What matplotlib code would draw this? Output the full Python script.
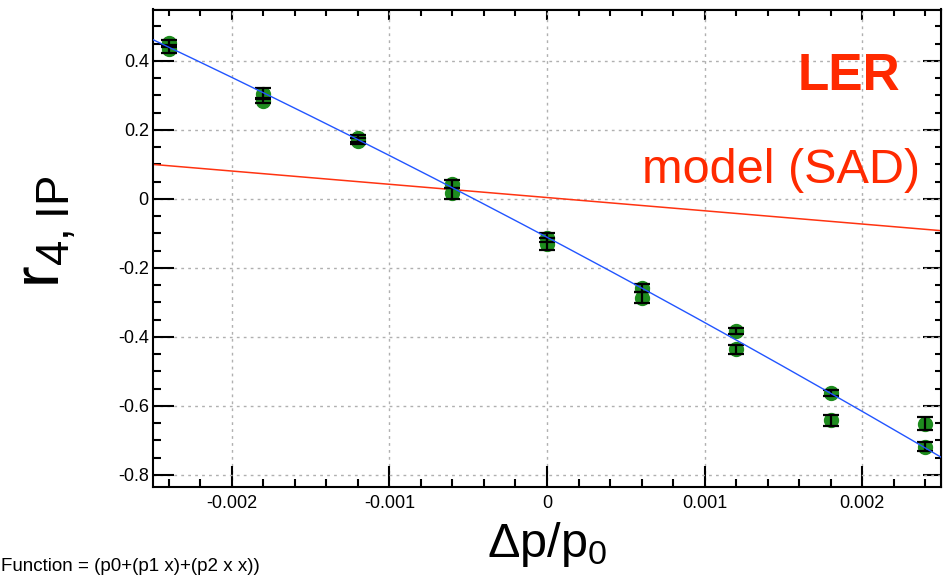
import numpy as np
import matplotlib
matplotlib.use("Agg")
import matplotlib.pyplot as plt
from matplotlib import font_manager
from matplotlib.ticker import MultipleLocator

# datos
dp = [-0.0024, -0.0018, -0.0012, -0.0006, 0.0, 0.0006, 0.0012, 0.0018, 0.0024]
r4_a = [0.451, 0.305, 0.176, 0.043, -0.112, -0.259, -0.383, -0.563, -0.718]
err_a = [0.010, 0.016, 0.010, 0.012, 0.013, 0.012, 0.008, 0.009, 0.012]
r4_b = [0.435, 0.285, 0.168, 0.016, -0.130, -0.286, -0.436, -0.642, -0.652]
err_b = [0.012, 0.008, 0.010, 0.016, 0.017, 0.016, 0.014, 0.016, 0.019]

# parametros del ajuste (p0 + p1 x + p2 x x) y del modelo SAD
p0, p1, p2 = -0.111, -242.0, -5200.0
sad0, sad1 = 0.004, -38.4

nombres = {f.name for f in font_manager.fontManager.ttflist}
fuente = "Liberation Sans"
narrow = "Liberation Sans Narrow" if "Liberation Sans Narrow" in nombres else fuente
plt.rcParams['font.family'] = [fuente, 'DejaVu Sans']
plt.rcParams['mathtext.fontset'] = 'custom'
plt.rcParams['mathtext.rm'] = fuente

fig = plt.figure(figsize=(9.47, 5.75), dpi=100)
ax = fig.add_axes([153/947, 1 - 487/575, 788/947, 477.5/575])

xx = np.linspace(-0.0025, 0.0025, 200)
ax.plot(xx, sad0 + sad1 * xx, color='#ff3311', lw=1.1, zorder=2)
ax.plot(xx, p0 + p1 * xx + p2 * xx * xx, color='#2255ff', lw=1.0, zorder=5)

# puntos verdes y barras de error negras encima
for yv, ev in [(r4_a, err_a), (r4_b, err_b)]:
    ax.plot(dp, yv, 'o', color='#1e8c1e', ms=10, mec='#1e8c1e', zorder=3)
    ax.errorbar(dp, yv, yerr=ev, fmt='none', ecolor='black', elinewidth=1.6,
                capsize=6, capthick=1.6, zorder=4)

ax.set_xlim(-0.0025, 0.0025)
ax.set_ylim(-0.835, 0.549)
ax.xaxis.set_major_locator(MultipleLocator(0.001))
ax.xaxis.set_minor_locator(MultipleLocator(0.0002))
ax.yaxis.set_major_locator(MultipleLocator(0.2))
ax.yaxis.set_minor_locator(MultipleLocator(0.05))
ax.set_xticks([-0.002, -0.001, 0, 0.001, 0.002])
ax.set_xticklabels(['-0.002', '-0.001', '0', '0.001', '0.002'])
ax.set_yticks([-0.8, -0.6, -0.4, -0.2, 0, 0.2, 0.4])
ax.set_yticklabels(['-0.8', '-0.6', '-0.4', '-0.2', '0', '0.2', '0.4'])
for lab in ax.get_xticklabels() + ax.get_yticklabels():
    lab.set_family([narrow, 'DejaVu Sans'])
ax.tick_params(which='both', direction='in', width=1.5, labelsize=13)
ax.tick_params(which='major', length=15)
ax.tick_params(which='minor', length=5.5)
ax.tick_params(axis='x', pad=6)
ax.tick_params(axis='y', pad=3)
ax.grid(True, which='major', color='#b0b0b0', ls=(0, (2, 3)), lw=1.0)
for s in ax.spines.values():
    s.set_linewidth(1.5)

# ticks arriba y a la derecha (mas cortos)
top = ax.secondary_xaxis('top')
top.xaxis.set_major_locator(MultipleLocator(0.001))
top.xaxis.set_minor_locator(MultipleLocator(0.0002))
top.tick_params(which='both', direction='in', width=1.5, labeltop=False)
top.tick_params(which='major', length=8)
top.tick_params(which='minor', length=5)
right = ax.secondary_yaxis('right')
right.yaxis.set_major_locator(MultipleLocator(0.2))
right.yaxis.set_minor_locator(MultipleLocator(0.05))
right.tick_params(which='both', direction='in', width=1.5, labelright=False)
right.tick_params(which='major', length=13)
right.tick_params(which='minor', length=4)

# textos
fig.text(900/947, 1 - 90/575, 'LER', color='#ff2a00', fontsize=37,
         fontweight='bold', ha='right', va='baseline')
fig.text(920/947, 1 - 183/575, 'model (SAD)', color='#ff2a00', fontsize=35,
         ha='right', va='baseline')
fig.text(47/947, 1 - 232/575, r'$\mathregular{r_{4,IP}}$', fontsize=47,
         rotation=90, ha='center', va='center')
fig.text(547/947, 1 - 557/575, r'$\mathregular{\Delta p/p_0}$', fontsize=35,
         ha='center', va='baseline')
fig.text(1/947, 1 - 571/575, 'Function = (p0+(p1 x)+(p2 x x))', fontsize=13.5,
         family=[narrow, 'DejaVu Sans'], ha='left', va='baseline')

fig.savefig('out.png', dpi=100)
